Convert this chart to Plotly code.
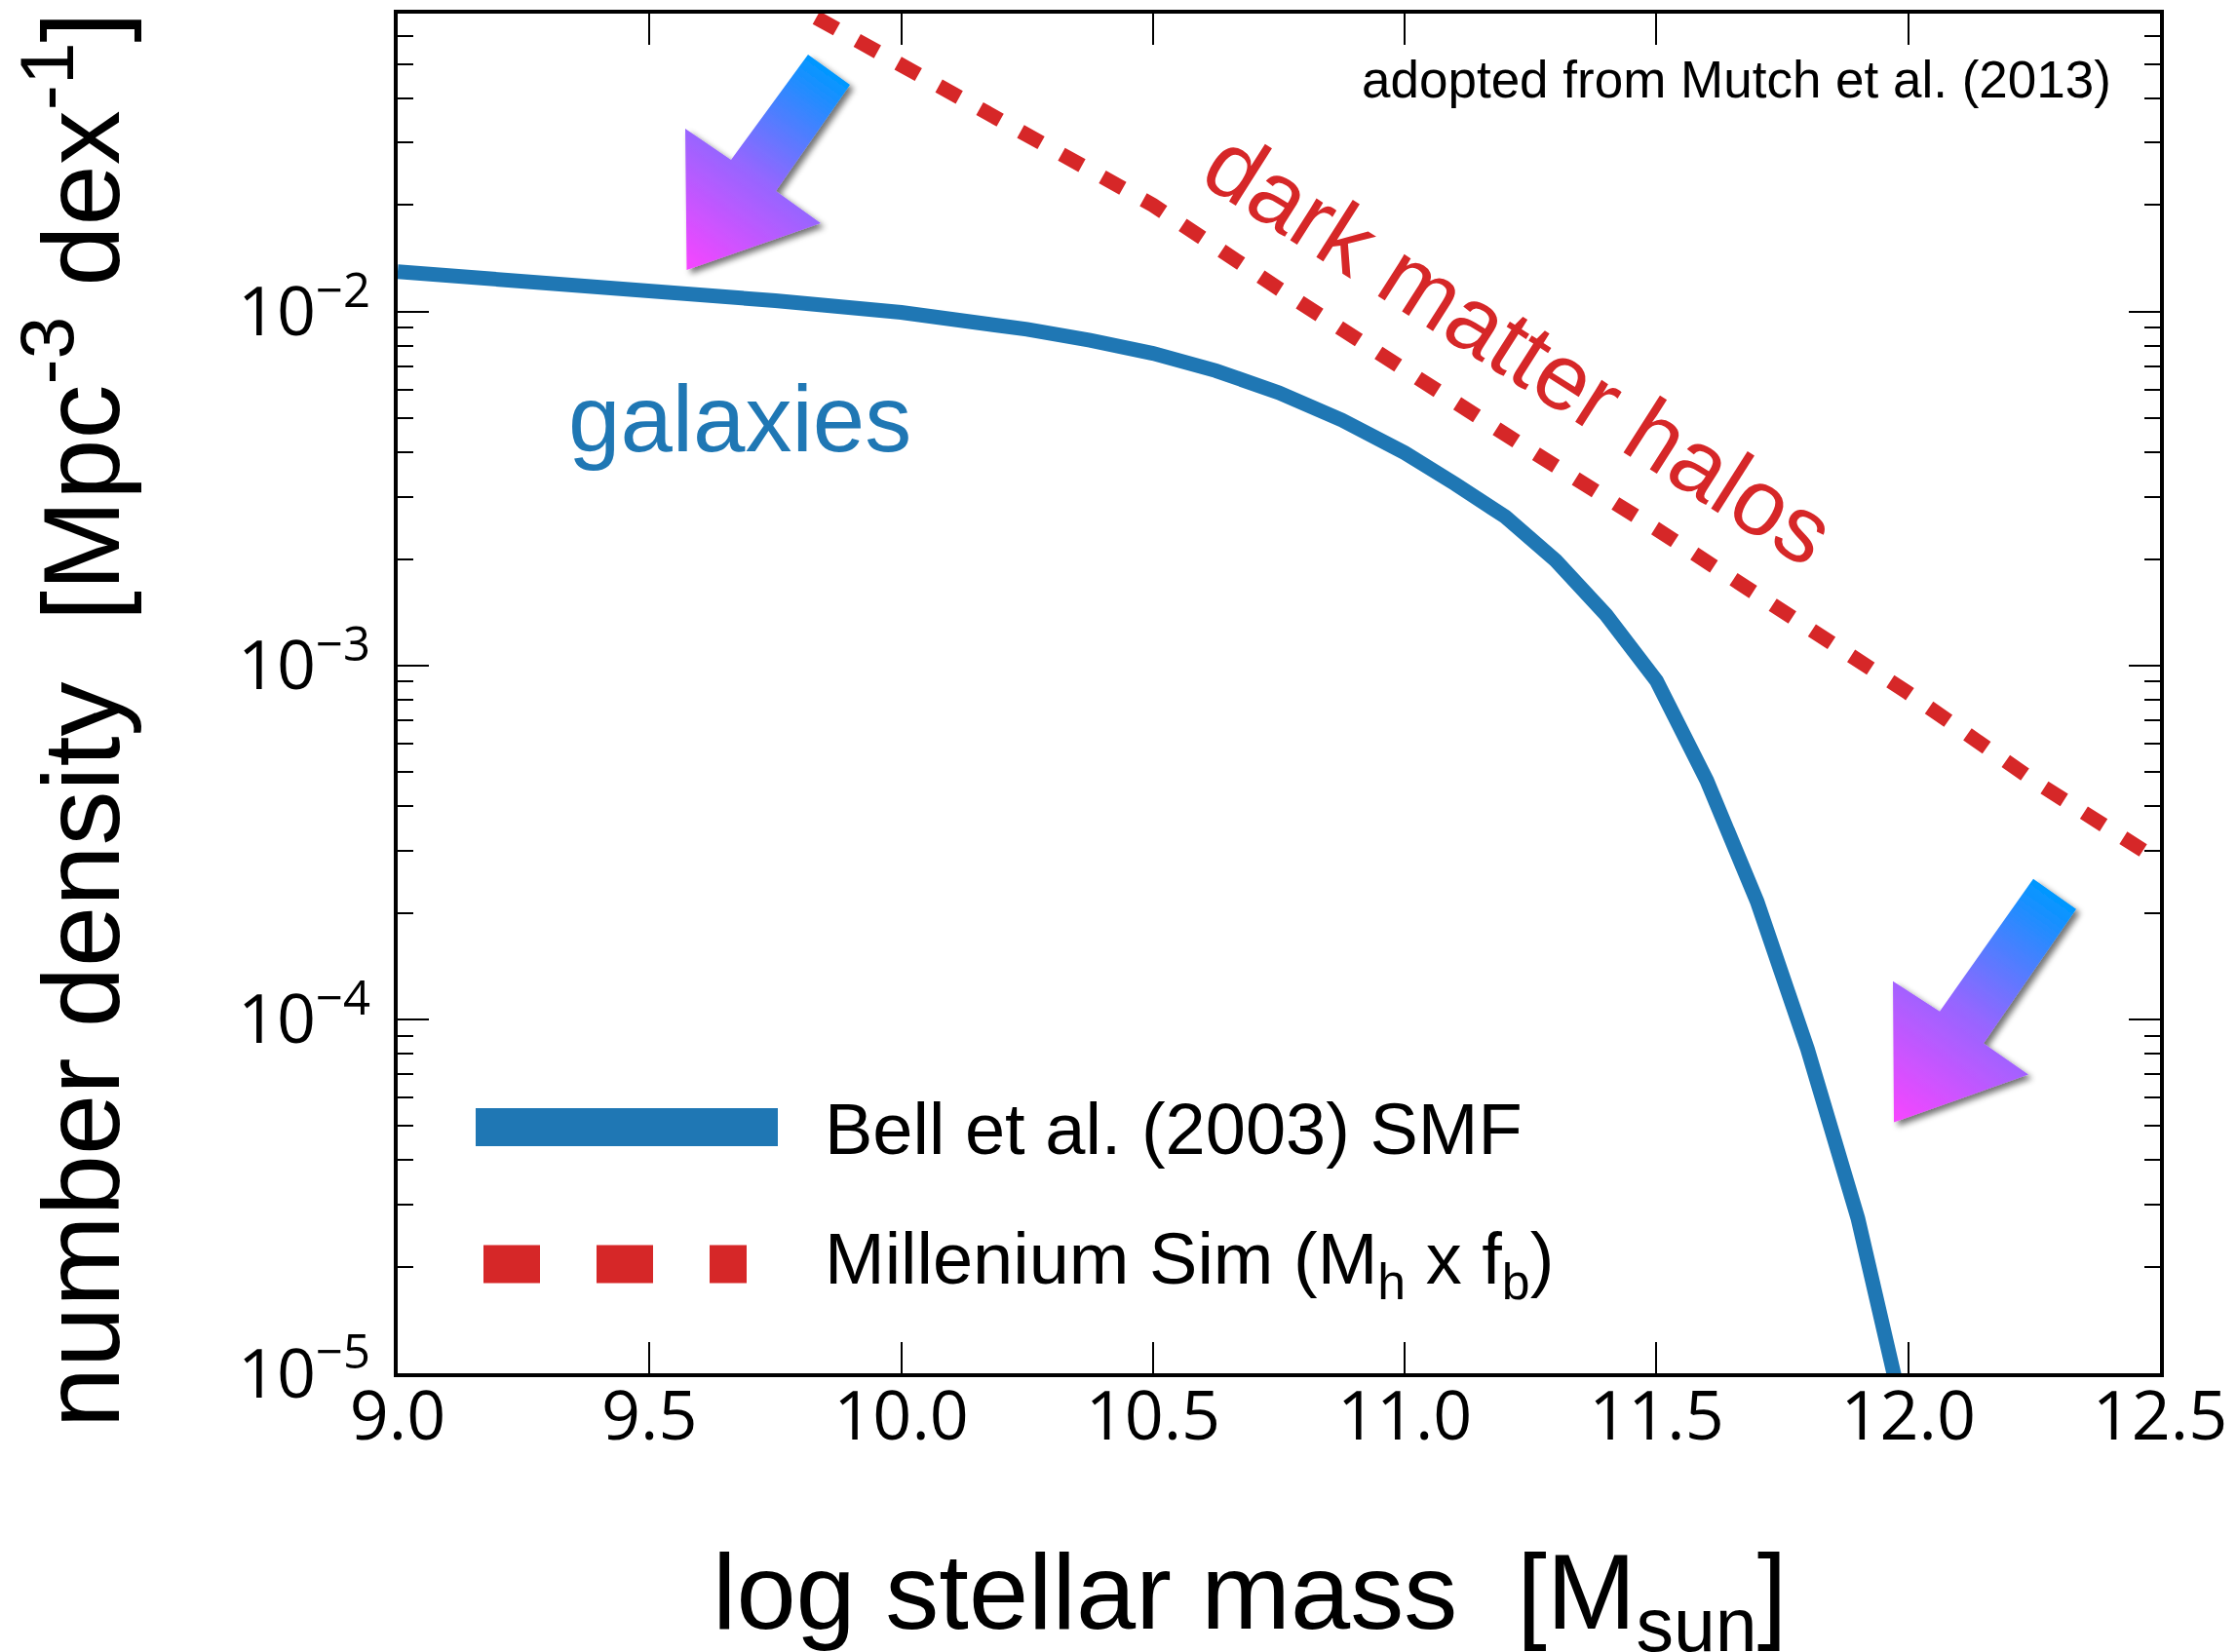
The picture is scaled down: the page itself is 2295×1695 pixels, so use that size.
import base64
import plotly.graph_objects as go

# ---------------- data ----------------
log_mstar_bell = [9.0, 9.25, 9.5, 9.75, 10.0, 10.125, 10.25, 10.375, 10.5, 10.625, 10.75, 10.875,
                  11.0, 11.1, 11.2, 11.3, 11.4, 11.5, 11.6, 11.7, 11.8, 11.9, 11.97, 12.02]
phi_bell = [1.297e-2, 1.222e-2, 1.148e-2, 1.074e-2, 9.95e-3, 9.46e-3, 8.91e-3, 8.30e-3,
            7.62e-3, 6.81e-3, 5.90e-3, 4.94e-3, 3.99e-3, 3.26e-3, 2.63e-3, 1.98e-3,
            1.39e-3, 9.06e-4, 4.73e-4, 2.15e-4, 8.24e-5, 2.74e-5, 1.00e-5, 5.01e-6]

log_mstar_mill = [9.75, 10.0, 10.25, 10.5, 10.75, 11.0, 11.25, 11.5, 11.75, 12.0, 12.25, 12.5]
phi_mill = [7.85e-2, 5.01e-2, 3.18e-2, 2.00e-2, 1.16e-2, 6.79e-3, 4.05e-3, 2.43e-3,
            1.43e-3, 8.36e-4, 4.72e-4, 2.80e-4]

x_tickvals = [9.0, 9.5, 10.0, 10.5, 11.0, 11.5, 12.0, 12.5]
x_ticktext = ["9.0", "9.5", "10.0", "10.5", "11.0", "11.5", "12.0", "12.5"]
y_tickvals = [1e-5, 1e-4, 1e-3, 1e-2]
y_ticktext = ["10<sup>\u22125</sup>", "10<sup>\u22124</sup>", "10<sup>\u22123</sup>", "10<sup>\u22122</sup>"]
y_minor = [m * 10.0 ** e for e in (-5, -4, -3, -2) for m in range(2, 10)]

legend_labels = ["Bell et al. (2003) SMF", "Millenium Sim (M<sub>h</sub> x f<sub>b</sub>)"]

BLUE = "#1f77b4"
RED = "#d62728"

# ---------------- geometry ----------------
FW, FH = 2295, 1695
L, R, T, B = 408, 2216, 14, 1409.5
W, H = R - L, B - T


def px2x(px):
    return (px - L) / W


def py2y(py):
    return (B - py) / H


def arrow_image(pts, tail_mid, tip):
    xs = [p[0] for p in pts]
    ys = [p[1] for p in pts]
    x0, y0 = min(xs) - 14, min(ys) - 14
    x1, y1 = max(xs) + 18, max(ys) + 18
    w, h = x1 - x0, y1 - y0
    poly = " ".join(f"{x - x0:.1f},{y - y0:.1f}" for x, y in pts)
    svg = (
        f'<svg xmlns="http://www.w3.org/2000/svg" width="{w:.0f}" height="{h:.0f}" '
        f'viewBox="0 0 {w:.1f} {h:.1f}" preserveAspectRatio="none">'
        '<defs>'
        f'<linearGradient id="g" gradientUnits="userSpaceOnUse" x1="{tail_mid[0]-x0:.1f}" '
        f'y1="{tail_mid[1]-y0:.1f}" x2="{tip[0]-x0:.1f}" y2="{tip[1]-y0:.1f}">'
        '<stop offset="0" stop-color="#0098ff"/>'
        '<stop offset="0.52" stop-color="#9566ff"/>'
        '<stop offset="1" stop-color="#f845ff"/>'
        '</linearGradient>'
        '<filter id="s" x="-30%" y="-30%" width="160%" height="160%">'
        '<feGaussianBlur in="SourceAlpha" stdDeviation="3"/>'
        '<feOffset dx="4" dy="4" result="o"/>'
        '<feComponentTransfer><feFuncA type="linear" slope="0.55"/></feComponentTransfer>'
        '<feMerge><feMergeNode/><feMergeNode in="SourceGraphic"/></feMerge>'
        '</filter>'
        '</defs>'
        f'<polygon points="{poly}" fill="url(#g)" filter="url(#s)"/>'
        '</svg>'
    )
    src = "data:image/svg+xml;base64," + base64.b64encode(svg.encode()).decode()
    return dict(source=src, xref="paper", yref="paper", x=px2x(x0), y=py2y(y0),
                sizex=w / W, sizey=h / H, xanchor="left", yanchor="top",
                sizing="stretch", layer="above")


arrow1 = [(829, 56), (872, 87), (796, 196), (842, 229), (704.5, 277), (703, 132), (750, 164)]
arrow2 = [(2086, 902), (2130, 933), (2035, 1071), (2081, 1103), (1943, 1152), (1942, 1007), (1990, 1038)]

# ---------------- figure ----------------
fig = go.Figure()
fig.add_trace(go.Scatter(x=log_mstar_bell, y=phi_bell, mode="lines",
                         line=dict(color=BLUE, width=15), name=legend_labels[0]))
fig.add_trace(go.Scatter(x=log_mstar_mill, y=phi_mill, mode="lines",
                         line=dict(color=RED, width=15, dash="24px,24px"), name=legend_labels[1]))

tickfont = dict(family="Open Sans", size=70, color="black")
TF = "Liberation Sans, Arial, sans-serif"

fig.update_layout(
    width=FW, height=FH,
    margin=dict(l=L, r=FW - R, t=T, b=FH - B, pad=0),
    paper_bgcolor="white", plot_bgcolor="white",
    showlegend=False,
    xaxis=dict(range=[9.0, 12.5], tickmode="array", tickvals=x_tickvals, ticktext=x_ticktext,
               ticks="inside", ticklen=32, tickwidth=2, tickcolor="black",
               showline=True, linewidth=4, linecolor="black", mirror="ticks",
               showgrid=False, zeroline=False, tickfont=tickfont, ticklabelstandoff=-20,
               automargin=False),
    yaxis=dict(type="log", range=[-5, -1.158], tickmode="array", tickvals=y_tickvals,
               ticktext=y_ticktext, ticks="inside", ticklen=32, tickwidth=2, tickcolor="black",
               showline=True, linewidth=4, linecolor="black", mirror="ticks",
               showgrid=False, zeroline=False, tickfont=tickfont, ticklabelstandoff=10,
               automargin=False,
               minor=dict(tickmode="array", tickvals=y_minor, ticks="inside", ticklen=16,
                          tickwidth=2, tickcolor="black", showgrid=False)),
)

ann = [
    dict(text="number density\u00a0\u00a0[Mpc<sup>-3</sup> dex<sup>-1</sup>]", x=px2x(75), y=py2y(739.5),
         textangle=-90, font=dict(family=TF, size=112, color="black")),
    dict(text="log stellar mass\u00a0\u00a0[M<sub>sun</sub>]", x=px2x(1282), y=py2y(1641),
         font=dict(family=TF, size=110, color="black")),
    dict(text="adopted from Mutch et al. (2013)", x=px2x(2168), y=py2y(82), xanchor="right",
         font=dict(family=TF, size=53, color="black")),
    dict(text="galaxies", x=px2x(758.5), y=py2y(430),
         font=dict(family=TF, size=96, color=BLUE)),
    dict(text="dark matter halos", x=px2x(1558.5), y=py2y(356.5), textangle=32.5,
         font=dict(family=TF, size=96, color=RED)),
    dict(text=legend_labels[0], x=px2x(844), y=py2y(1159.4), xanchor="left",
         font=dict(family=TF, size=74, color="black")),
    dict(text=legend_labels[1], x=px2x(844), y=py2y(1297.7), xanchor="left",
         font=dict(family=TF, size=74, color="black")),
]
for a in ann:
    a.setdefault("xanchor", "center")
    a.setdefault("yanchor", "middle")
    fig.add_annotation(xref="paper", yref="paper", showarrow=False, **a)

# legend handles
fig.add_shape(type="line", xref="paper", yref="paper", x0=px2x(488), x1=px2x(798),
              y0=py2y(1157), y1=py2y(1157), line=dict(color=BLUE, width=39))
fig.add_shape(type="line", xref="paper", yref="paper", x0=px2x(496), x1=px2x(766),
              y0=py2y(1297.5), y1=py2y(1297.5), line=dict(color=RED, width=39, dash="58px,58px"))

fig.update_layout(images=[
    arrow_image(arrow1, ((829 + 872) / 2, (56 + 87) / 2), (704.5, 277)),
    arrow_image(arrow2, ((2086 + 2130) / 2, (902 + 933) / 2), (1943, 1152)),
])

fig.write_html("out.html")
